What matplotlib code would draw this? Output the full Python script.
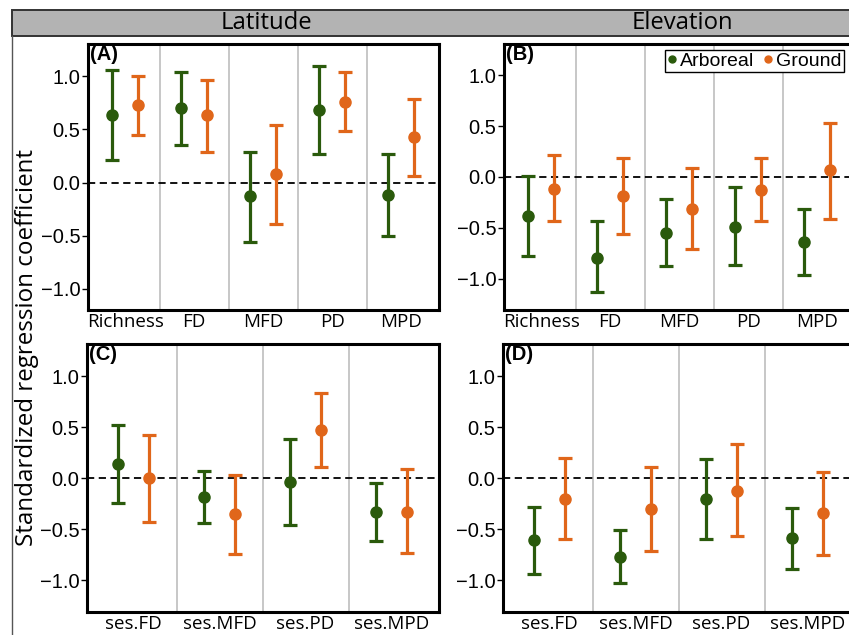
import numpy as np
import matplotlib
matplotlib.use('Agg')
import matplotlib.pyplot as plt
from matplotlib.patches import Rectangle
from matplotlib.lines import Line2D

# ---- data ----
cats_top = ['Richness', 'FD', 'MFD', 'PD', 'MPD']
cats_bot = ['ses.FD', 'ses.MFD', 'ses.PD', 'ses.MPD']

# (A) Latitude
a_arb = [0.636, 0.700, -0.130, 0.683, -0.116]
a_arb_lo = [0.213, 0.354, -0.555, 0.266, -0.500]
a_arb_hi = [1.060, 1.044, 0.285, 1.100, 0.270]
a_gro = [0.730, 0.633, 0.078, 0.762, 0.426]
a_gro_lo = [0.448, 0.290, -0.390, 0.489, 0.066]
a_gro_hi = [1.000, 0.966, 0.542, 1.038, 0.787]

# (B) Elevation
b_arb = [-0.380, -0.793, -0.551, -0.492, -0.636]
b_arb_lo = [-0.774, -1.134, -0.879, -0.869, -0.961]
b_arb_hi = [0.013, -0.436, -0.216, -0.102, -0.315]
b_gro = [-0.115, -0.190, -0.311, -0.125, 0.066]
b_gro_lo = [-0.429, -0.561, -0.705, -0.429, -0.410]
b_gro_hi = [0.213, 0.187, 0.085, 0.187, 0.530]

# (C) Latitude, ses
c_arb = [0.137, -0.180, -0.039, -0.333]
c_arb_lo = [-0.242, -0.435, -0.454, -0.618]
c_arb_hi = [0.523, 0.075, 0.382, -0.046]
c_gro = [0.000, -0.353, 0.474, -0.327]
c_gro_lo = [-0.425, -0.745, 0.108, -0.735]
c_gro_hi = [0.425, 0.036, 0.840, 0.088]

# (D) Elevation, ses
d_arb = [-0.607, -0.770, -0.207, -0.580]
d_arb_lo = [-0.941, -1.023, -0.597, -0.892]
d_arb_hi = [-0.279, -0.511, 0.187, -0.289]
d_gro = [-0.200, -0.305, -0.121, -0.344]
d_gro_lo = [-0.597, -0.711, -0.564, -0.748]
d_gro_hi = [0.200, 0.111, 0.334, 0.066]

GREEN = '#2a5a0c'
ORANGE = '#e0661a'
SANS = ['Open Sans', 'DejaVu Sans']
ARIAL = ['Liberation Sans', 'DejaVu Sans']

W, H = 849, 635
fig = plt.figure(figsize=(W / 100, H / 100), dpi=100)


def px_axes(left, top, right, bottom):
    return fig.add_axes([left / W, 1 - bottom / H, (right - left) / W, (bottom - top) / H])


def draw_panel(ax, cats, arb, arb_lo, arb_hi, gro, gro_lo, gro_hi, label, ylim, dodge):
    n = len(cats)
    x = np.arange(1, n + 1)
    for s in np.arange(1.5, n, 1.0):
        ax.axvline(s, color='#bdbdbd', lw=1.2, zorder=1)
    ax.axhline(0, color='black', lw=1.3, ls=(0, (4, 2.5)), zorder=2)
    for vals, lo, hi, col, off in [(arb, arb_lo, arb_hi, GREEN, -dodge),
                                   (gro, gro_lo, gro_hi, ORANGE, dodge)]:
        vals = np.array(vals)
        err = [vals - np.array(lo), np.array(hi) - vals]
        ax.errorbar(x + off, vals, yerr=err, fmt='o', color=col, ms=8,
                    elinewidth=2.3, capsize=5, capthick=2.3, zorder=3)
    ax.set_xlim(0.46, n + 0.55)
    ax.set_ylim(*ylim)
    ax.set_xticks(x)
    ax.set_xticklabels(cats, fontsize=13.5, family=SANS)
    ax.tick_params(axis='x', length=0, pad=2)
    ax.set_yticks([-1.0, -0.5, 0.0, 0.5, 1.0])
    ax.set_yticklabels(['\u22121.0', '\u22120.5', '0.0', '0.5', '1.0'], fontsize=14.5, family=ARIAL)
    ax.tick_params(axis='y', length=4.5, width=1, pad=1)
    for sp in ax.spines.values():
        sp.set_linewidth(2.2)
    ax.text(0.006, 0.997, label, transform=ax.transAxes, ha='left', va='top',
            fontsize=14.5, fontweight='bold', family=ARIAL)


# strip and outer frame
fig.add_artist(Rectangle((12 / W, 1 - 36 / H), 1.0, 26 / H, transform=fig.transFigure,
                         facecolor='#b3b3b3', edgecolor='#333333', lw=1.4, zorder=0))
fig.add_artist(Line2D([12 / W, 12 / W], [0, 1 - 36 / H], transform=fig.transFigure,
                      color='#555555', lw=1.0))

axA = px_axes(88, 44, 439, 310)
axB = px_axes(504, 44, 855, 310)
axC = px_axes(87, 344, 439, 612)
axD = px_axes(503, 344, 855, 612)

draw_panel(axA, cats_top, a_arb, a_arb_lo, a_arb_hi, a_gro, a_gro_lo, a_gro_hi, '(A)', (-1.2, 1.305), 0.19)
draw_panel(axB, cats_top, b_arb, b_arb_lo, b_arb_hi, b_gro, b_gro_lo, b_gro_hi, '(B)', (-1.31, 1.31), 0.19)
draw_panel(axC, cats_bot, c_arb, c_arb_lo, c_arb_hi, c_gro, c_gro_lo, c_gro_hi, '(C)', (-1.31, 1.317), 0.177)
draw_panel(axD, cats_bot, d_arb, d_arb_lo, d_arb_hi, d_gro, d_gro_lo, d_gro_hi, '(D)', (-1.31, 1.317), 0.177)

# strip titles
fig.text(266 / W, 1 - 23 / H, 'Latitude', ha='center', va='center', fontsize=17.2, family=SANS)
fig.text(682 / W, 1 - 23 / H, 'Elevation', ha='center', va='center', fontsize=17.2, family=SANS)

# y label
fig.text(27 / W, 1 - 347 / H, 'Standardized regression coefficient', rotation=90,
         ha='center', va='center', fontsize=17.4, family=SANS)

# legend
handles = [Line2D([], [], marker='o', ls='none', color=GREEN, ms=5),
           Line2D([], [], marker='o', ls='none', color=ORANGE, ms=5)]
leg = axB.legend(handles, ['Arboreal', 'Ground'], ncol=2, loc='upper right',
                 bbox_to_anchor=(844 / W, 1 - 50 / H), bbox_transform=fig.transFigure,
                 borderaxespad=0, fancybox=False, framealpha=1, edgecolor='black',
                 handlelength=0.5, handletextpad=0.15, columnspacing=0.5, borderpad=0.12,
                 prop={'family': ARIAL, 'size': 14})
leg.get_frame().set_linewidth(1.0)

plt.savefig('out.png', dpi=100)
